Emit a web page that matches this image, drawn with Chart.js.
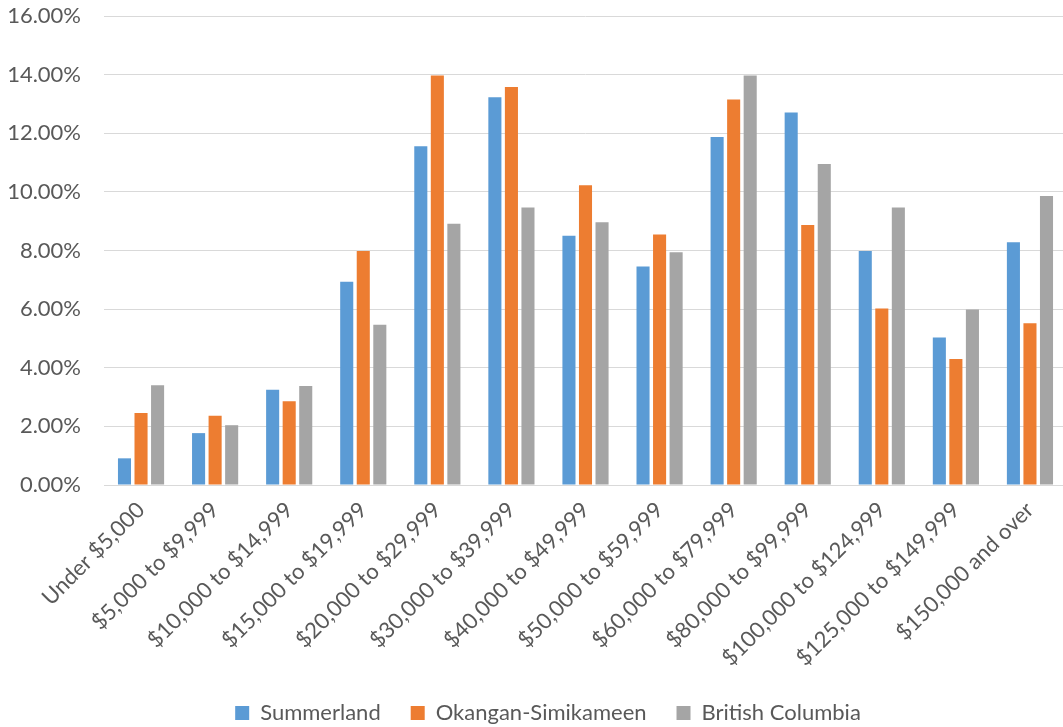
<!DOCTYPE html>
<html>
<head>
<meta charset="utf-8">
<script src="https://cdn.jsdelivr.net/npm/chart.js@4.4.1/dist/chart.umd.min.js"></script>
<style>
  html, body { margin: 0; padding: 0; background: #ffffff; overflow: hidden; }
  #wrap { width: 1070px; height: 727px; }
</style>
</head>
<body>
<div id="wrap"><canvas id="chart" width="1070" height="727"></canvas></div>
<script>
// Household income distribution (% of households)
const incomeBrackets = [
  'Under $5,000', '$5,000 to $9,999', '$10,000 to $14,999', '$15,000 to $19,999',
  '$20,000 to $29,999', '$30,000 to $39,999', '$40,000 to $49,999', '$50,000 to $59,999',
  '$60,000 to $79,999', '$80,000 to $99,999', '$100,000 to $124,999', '$125,000 to $149,999',
  '$150,000 and over'
];
const summerland = [0.91, 1.77, 3.25, 6.93, 11.56, 13.23, 8.50, 7.45, 11.87, 12.71, 7.98, 5.03, 8.28];
const okanaganSimilkameen = [2.46, 2.36, 2.86, 7.98, 13.97, 13.58, 10.23, 8.55, 13.15, 8.87, 6.02, 4.30, 5.52];
const britishColumbia = [3.40, 2.04, 3.38, 5.47, 8.91, 9.47, 8.96, 7.94, 13.97, 10.95, 9.47, 5.99, 9.86];
const seriesNames = ['Summerland', 'Okangan-Simikameen', 'British Columbia'];
const yTickValues = [0, 2, 4, 6, 8, 10, 12, 14, 16];

const textColor = '#595959';
const fontFamily = 'Lato, "Liberation Sans", sans-serif';
const fontSize = 22;

// Nudges the bottom legend so it sits centred under the full drawing width
const legendOffset = {
  id: 'legendOffset',
  afterLayout(chart) {
    const lg = chart.legend;
    if (!lg) return;
    lg.left += 14.5; lg.right += 14.5;
    lg.top += 7; lg.bottom += 7;
  }
};

new Chart(document.getElementById('chart'), {
  type: 'bar',
  data: {
    labels: incomeBrackets,
    datasets: [
      { label: seriesNames[0], data: summerland, backgroundColor: '#5B9BD5' },
      { label: seriesNames[1], data: okanaganSimilkameen, backgroundColor: '#ED7D31' },
      { label: seriesNames[2], data: britishColumbia, backgroundColor: '#A5A5A5' }
    ]
  },
  plugins: [legendOffset],
  options: {
    responsive: false,
    animation: false,
    devicePixelRatio: 1,
    datasets: { bar: { categoryPercentage: 0.67, barPercentage: 0.79 } },
    layout: { padding: { left: 0, right: 3, top: 16, bottom: 0 } },
    plugins: {
      tooltip: { enabled: false },
      legend: {
        position: 'bottom',
        labels: {
          color: textColor,
          font: { family: fontFamily, size: fontSize },
          boxWidth: 14,
          boxHeight: 14,
          padding: 30
        }
      }
    },
    scales: {
      x: {
        grid: { display: false, drawTicks: false },
        border: { display: true, color: '#D9D9D9', width: 1 },
        ticks: {
          color: textColor,
          font: { family: fontFamily, size: fontSize },
          minRotation: 45,
          maxRotation: 45,
          autoSkip: false,
          padding: 12
        },
        afterFit(scale) { scale.height = 180; }
      },
      y: {
        min: 0,
        max: 16,
        afterBuildTicks(scale) { scale.ticks = yTickValues.map(v => ({ value: v })); },
        grid: { color: '#D9D9D9', lineWidth: 1, drawTicks: false },
        border: { display: false },
        ticks: {
          color: textColor,
          font: { family: fontFamily, size: fontSize },
          padding: 23,
          callback: (v) => v.toFixed(2) + '%'
        },
        afterFit(scale) {
          scale.width = 104;
          scale.paddingTop = 0;
          scale.paddingBottom = 0;
        }
      }
    }
  }
});
</script>
</body>
</html>
